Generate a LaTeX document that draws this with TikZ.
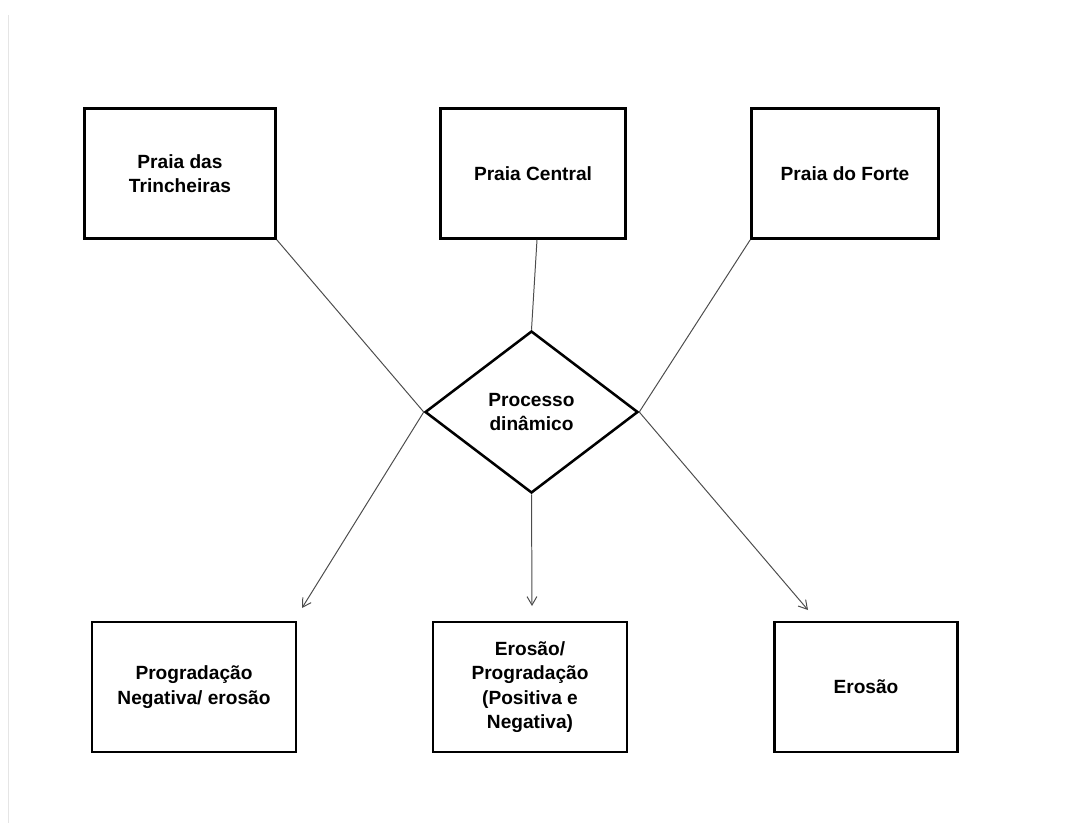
\documentclass[tikz,border=0pt]{standalone}
\usepackage{fontspec}
\setmainfont{Liberation Sans}
\usetikzlibrary{shapes.geometric,arrows.meta}
\begin{document}
\begin{tikzpicture}[x=0.025cm,y=-0.025cm,
  caixa/.style={draw,line width=1.8pt,align=center,inner sep=0pt,minimum height=130*0.025cm,
    font=\fontsize{13.6}{17.5}\selectfont\bfseries},
  losango/.style={draw,diamond,line width=1.8pt,align=center,inner sep=0pt,
    minimum width=213*0.025cm,minimum height=162*0.025cm,
    font=\fontsize{13.6}{17.5}\selectfont\bfseries},
  liga/.style={draw=black!70,line width=0.7pt},
  seta/.style={liga,-{Straight Barb[length=6pt,width=7pt]}}]
\useasboundingbox (0,0) rectangle (1071,823);
\draw[black!10,line width=0.6pt] (8,15) -- (8,823);

% praias
\node[caixa,minimum width=191*0.025cm] (trinch) at (180,173.5) {Praia das\\Trincheiras};
\node[caixa,minimum width=185*0.025cm] (central) at (533,173.5) {Praia Central};
\node[caixa,minimum width=187*0.025cm] (forte) at (845,173.5) {Praia do Forte};

% processo
\node[losango] (proc) at (531.5,412) {Processo\\din\^amico};

% resultados
\node[caixa,minimum width=204*0.025cm] (neg) at (194,687) {Progradação\\Negativa/ erosão};
\node[caixa,minimum width=194*0.025cm] (eroprog) at (530,687) {Erosão/\\Progradação\\(Positiva e\\Negativa)};
\node[caixa,minimum width=183*0.025cm] (ero) at (866,687) {Erosão};

\coordinate (pneg) at (302,608);
\coordinate (peroprog) at (532,606);
\coordinate (pero) at (808,610);

\draw[liga] (trinch.south east) -- (proc.west);
\draw[liga] ([xshift=4*0.025cm]central.south) -- (proc.north);
\draw[liga] (forte.south west) -- (proc.east);

\draw[seta] (proc.west) -- (pneg);
\draw[seta] (proc.south) -- (peroprog);
\draw[seta] (proc.east) -- (pero);
\end{tikzpicture}
\end{document}
